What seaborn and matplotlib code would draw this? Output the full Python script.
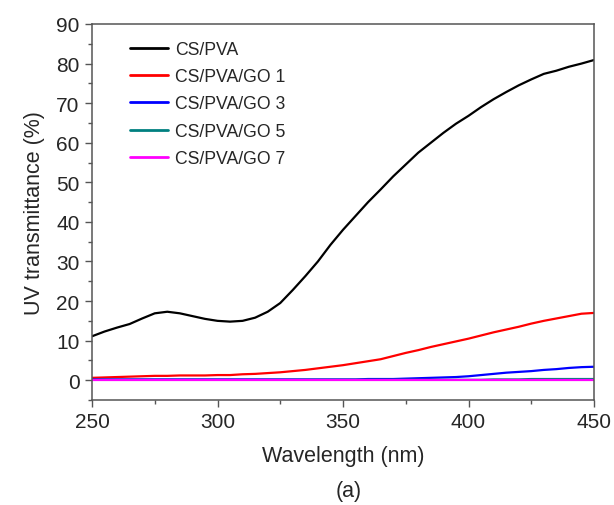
import numpy as np
import pandas as pd
import matplotlib
matplotlib.use("Agg")
import matplotlib.pyplot as plt
import seaborn as sns
from matplotlib.ticker import MultipleLocator

wavelength = [250, 255, 260, 265, 270, 275, 280, 285, 290, 295, 300, 305, 310, 315, 320,
              325, 330, 335, 340, 345, 350, 355, 360, 365, 370, 375, 380, 385, 390, 395,
              400, 405, 410, 415, 420, 425, 430, 435, 440, 445, 450]

cs_pva = [11.1, 12.3, 13.3, 14.2, 15.6, 16.9, 17.3, 16.9, 16.2, 15.5, 15.0, 14.8, 15.0, 15.8, 17.3,
          19.5, 22.8, 26.3, 30.0, 34.2, 38.0, 41.5, 45.0, 48.2, 51.5, 54.5, 57.5, 60.0, 62.5, 64.8,
          66.8, 69.0, 71.0, 72.8, 74.5, 76.0, 77.4, 78.2, 79.2, 80.0, 80.9]
go1 = [0.6, 0.7, 0.8, 0.9, 1.0, 1.1, 1.1, 1.2, 1.2, 1.2, 1.3, 1.3, 1.5, 1.6, 1.8,
       2.0, 2.3, 2.6, 3.0, 3.4, 3.8, 4.3, 4.8, 5.3, 6.1, 6.9, 7.6, 8.4, 9.1, 9.8,
       10.5, 11.3, 12.1, 12.8, 13.5, 14.3, 15.0, 15.6, 16.2, 16.8, 17.0]
go3 = [0.2, 0.2, 0.2, 0.2, 0.2, 0.2, 0.2, 0.2, 0.2, 0.2, 0.2, 0.2, 0.2, 0.2, 0.2,
       0.2, 0.2, 0.2, 0.2, 0.2, 0.2, 0.2, 0.3, 0.3, 0.3, 0.4, 0.5, 0.6, 0.7, 0.8,
       1.0, 1.3, 1.6, 1.9, 2.1, 2.3, 2.6, 2.8, 3.1, 3.3, 3.4]
go5 = [0.1, 0.1, 0.1, 0.1, 0.1, 0.1, 0.1, 0.1, 0.1, 0.1, 0.1, 0.1, 0.1, 0.1, 0.1,
       0.1, 0.1, 0.1, 0.1, 0.1, 0.1, 0.1, 0.1, 0.1, 0.1, 0.1, 0.1, 0.1, 0.1, 0.1,
       0.1, 0.1, 0.2, 0.2, 0.2, 0.3, 0.3, 0.3, 0.3, 0.3, 0.3]
go7 = [0.0, 0.0, 0.0, 0.0, 0.0, 0.0, 0.0, 0.0, 0.0, 0.0, 0.0, 0.0, 0.0, 0.0, 0.0,
       0.0, 0.0, 0.0, 0.0, 0.0, 0.0, 0.0, 0.0, 0.0, 0.0, 0.0, 0.0, 0.0, 0.0, 0.0,
       0.0, 0.0, 0.0, 0.0, 0.0, 0.0, 0.0, 0.0, 0.0, 0.0, 0.0]

labels = ["CS/PVA", "CS/PVA/GO 1", "CS/PVA/GO 3", "CS/PVA/GO 5", "CS/PVA/GO 7"]
colors = ["#000000", "#ff0000", "#0000ff", "#008080", "#ff00ff"]
series = [cs_pva, go1, go3, go5, go7]

frames = []
for lab, vals in zip(labels, series):
    frames.append(pd.DataFrame({"Wavelength": wavelength, "T": vals, "Sample": lab}))
df = pd.concat(frames, ignore_index=True)

sns.set_style("ticks")
plt.rcParams["font.family"] = ["Liberation Sans", "DejaVu Sans"]

fig = plt.figure(figsize=(6.14, 5.06), dpi=100)
ax = fig.add_axes([92/614, 1 - 401/506, (594-92)/614, (401-25)/506])

sns.lineplot(data=df, x="Wavelength", y="T", hue="Sample", hue_order=labels,
             palette=dict(zip(labels, colors)), linewidth=1.6, ax=ax, estimator=None)

ax.set_xlim(250, 450)
ax.set_ylim(-5, 90)
ax.xaxis.set_major_locator(MultipleLocator(50))
ax.xaxis.set_minor_locator(MultipleLocator(25))
ax.yaxis.set_major_locator(MultipleLocator(10))
ax.yaxis.set_minor_locator(MultipleLocator(5))
ax.set_yticks(range(0, 91, 10))

for sp in ax.spines.values():
    sp.set_color("#555555")
    sp.set_linewidth(1.1)

ax.tick_params(axis="both", which="major", direction="out", length=5, width=1.0,
               color="#555555", labelsize=15, pad=4, top=False, right=False)
ax.tick_params(axis="both", which="minor", direction="out", length=3, width=1.0,
               color="#555555", top=False, right=False)

ax.set_xlabel("Wavelength (nm)", fontsize=15.5, labelpad=10)
ax.set_ylabel("UV transmittance (%)", fontsize=15.5, labelpad=8)

leg = ax.legend(loc="upper left", bbox_to_anchor=(0.045, 0.997), frameon=False,
                fontsize=12.7, handlelength=2.1, handletextpad=0.45, labelspacing=0.58)
for line in leg.get_lines():
    line.set_linewidth(2.0)

fig.text(349/614, 1 - 492/506, "(a)", ha="center", va="center", fontsize=15.5)

fig.savefig("out.png", dpi=100)
